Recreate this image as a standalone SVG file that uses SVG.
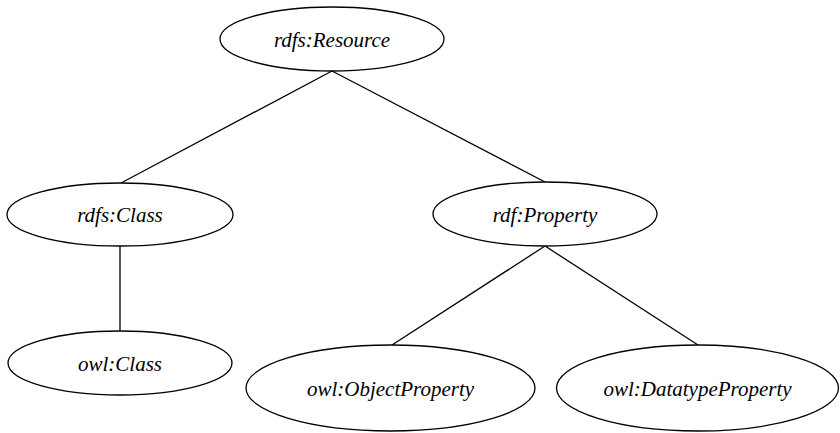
<svg xmlns="http://www.w3.org/2000/svg" width="840" height="433" viewBox="0 0 840 433">
<style>
.node ellipse{fill:#ffffff;stroke:#000000;stroke-width:1.3}
.node text{font-family:'Liberation Serif','Times New Roman',serif;font-style:italic;font-size:21px;fill:#000000;text-anchor:middle}
#edges line{stroke:#000000;stroke-width:1.3}
</style>
<rect width="840" height="433" fill="#ffffff"/>
<g id="edges">
<line x1="332" y1="71" x2="121" y2="183"/>
<line x1="332" y1="71" x2="545" y2="182"/>
<line x1="120" y1="246" x2="120" y2="331"/>
<line x1="545" y1="246" x2="392" y2="345"/>
<line x1="545" y1="246" x2="698" y2="345"/>
</g>
<g id="rdfs-resource" class="node">
<ellipse cx="332" cy="39" rx="112" ry="32"/>
<text x="332" y="46.5">rdfs:Resource</text>
</g>
<g id="rdfs-class" class="node">
<ellipse cx="120" cy="214.5" rx="113" ry="31.5"/>
<text x="120" y="222">rdfs:Class</text>
</g>
<g id="rdf-property" class="node">
<ellipse cx="545" cy="214" rx="112" ry="32"/>
<text x="545" y="221.5">rdf:Property</text>
</g>
<g id="owl-class" class="node">
<ellipse cx="120" cy="363" rx="112" ry="32"/>
<text x="120" y="370.5">owl:Class</text>
</g>
<g id="owl-objectproperty" class="node">
<ellipse cx="390.5" cy="388" rx="144.5" ry="43"/>
<text x="390.5" y="395.5">owl:ObjectProperty</text>
</g>
<g id="owl-datatypeproperty" class="node">
<ellipse cx="697.5" cy="388" rx="141" ry="43"/>
<text x="697.5" y="395.5">owl:DatatypeProperty</text>
</g>
</svg>
